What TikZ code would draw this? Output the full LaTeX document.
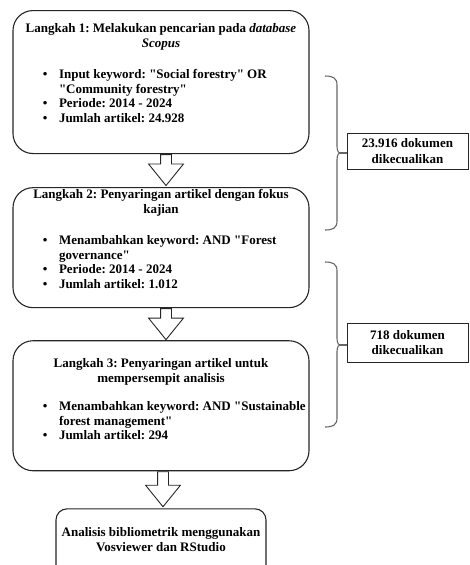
\documentclass[tikz,border=0pt]{standalone}
\usepackage{fontspec}
\setmainfont{Liberation Serif}[Ligatures=TeXOff]
\usepackage{enumitem}
\usetikzlibrary{positioning,shapes.arrows}

\setlength{\parskip}{0pt}
\frenchspacing
\setlist[itemize]{leftmargin=46pt,labelsep=11.5pt,topsep=0pt,partopsep=0pt,itemsep=0pt,parsep=0pt,label=\textbullet}

\begin{document}
\begin{tikzpicture}[x=1pt,y=-1pt,
		font=\fontsize{13pt}{14.5pt}\selectfont\bfseries,
		stepbox/.style = {draw=black!85, line width=1.1pt, rounded corners=20pt, inner sep=0pt, fill=white},
		flowarrow/.style = {single arrow, draw=black!85, line width=0.9pt, fill=white, shape border rotate=270,
			single arrow head extend=12pt, single arrow tip angle=78, single arrow head indent=0pt,
			inner sep=5pt, minimum width=34pt, anchor=tail},
		notebox/.style = {draw=black!85, line width=0.9pt, inner sep=0pt, minimum width=121pt, align=center,
			font=\fontsize{13pt}{15.5pt}\selectfont\bfseries},
		bracket/.style = {draw=black!60, line width=1.1pt}]
		
		\useasboundingbox (0,0) rectangle (469,565);
		\clip (0,0) rectangle (469,565);
		
		% langkah-langkah
		\node[stepbox,anchor=north] (box1) at (161,10) {\parbox[c][143pt][t]{296pt}{\frenchspacing\setlength{\parskip}{0pt}\centering\vspace*{13pt}%
				Langkah 1: Melakukan pencarian pada \textit{database}\\\textit{Scopus}\par
				\vspace{17pt}\raggedright
				\begin{itemize}
					\item Input keyword: "Social forestry" OR\newline "Community forestry"
					\item Periode: 2014 - 2024
					\item Jumlah artikel: 24.928
		\end{itemize}}};
		\node[stepbox,below=33pt of box1] (box2) {\parbox[c][120pt][t]{296pt}{\frenchspacing\setlength{\parskip}{0pt}\centering\vspace*{2pt}%
				Langkah 2: Penyaringan artikel dengan fokus\\kajian\par
				\vspace{17pt}\raggedright
				\begin{itemize}
					\item Menambahkan keyword: AND "Forest\newline governance"
					\item Periode: 2014 - 2024
					\item Jumlah artikel: 1.012
		\end{itemize}}};
		\node[stepbox,below=32pt of box2] (box3) {\parbox[c][130pt][t]{296pt}{\frenchspacing\setlength{\parskip}{0pt}\centering\vspace*{18pt}%
				Langkah 3: Penyaringan artikel untuk\\mempersempit analisis\par
				\vspace{14pt}\raggedright
				\begin{itemize}
					\item Menambahkan keyword: AND "Sustainable\newline forest management"
					\item Jumlah artikel: 294
		\end{itemize}}};
		\node[stepbox,rounded corners=11pt,below=37pt of box3] (box4) {\parbox[c][70pt][t]{210pt}{\fontsize{13pt}{15pt}\selectfont\centering\vspace*{19pt}%
				Analisis bibliometrik menggunakan\\Vosviewer dan RStudio}};
		
		% panah
		\node[flowarrow,minimum height=31pt] (arr1) at ([xshift=5pt]box1.south) {};
		\node[flowarrow,minimum height=31pt] (arr2) at ([xshift=5pt]box2.south) {};
		\node[flowarrow,minimum height=35pt] (arr3) at ([xshift=2pt]box3.south) {};
		
		% dokumen dikecualikan
		\node[notebox,minimum height=36pt] (note1) at (407.5,151) {23.916 dokumen\\dikecualikan};
		\node[notebox,minimum height=39pt] (note2) at (407.5,342.5) {718 dokumen\\dikecualikan};
		
		\coordinate (tip1) at (340,153);
		\coordinate (tip2) at (340,345);
		\draw[bracket] (325,76) .. controls (333,76) and (337,78) .. (337,85) -- (337,143)
			.. controls (337,149) and (337,152) .. (tip1) .. controls (337,154) and (337,157) .. (337,163)
			-- (337,221) .. controls (337,228) and (333,230) .. (325,230);
		\draw[bracket] (325,262) .. controls (333,262) and (337,264) .. (337,271) -- (337,335)
			.. controls (337,341) and (337,344) .. (tip2) .. controls (337,346) and (337,349) .. (337,355)
			-- (337,418) .. controls (337,425) and (333,427) .. (325,427);
		\draw[bracket] (tip1) -- (tip1 -| note1.west);
		\draw[bracket] (tip2) -- (tip2 -| note2.west);
\end{tikzpicture}
\end{document}
